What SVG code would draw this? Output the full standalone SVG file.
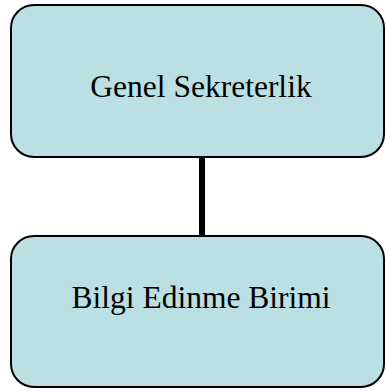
<svg xmlns="http://www.w3.org/2000/svg" width="386" height="391" viewBox="0 0 386 391">
<style>
.box{fill:#BBE0E3;stroke:#000;stroke-width:2}
.lbl{font-family:"Liberation Serif","Times New Roman",serif;font-size:31.5px;fill:#000;text-anchor:middle}
</style>
<rect width="386" height="391" fill="#fff"/>
<g id="connectors">
<line x1="202" y1="157" x2="202" y2="236" stroke="#000" stroke-width="6"/>
</g>
<g id="genel-sekreterlik">
<rect class="box" x="11" y="5" width="373" height="152" rx="23" ry="23"/>
<text class="lbl" x="201" y="97">Genel Sekreterlik</text>
</g>
<g id="bilgi-edinme-birimi">
<rect class="box" x="11" y="236" width="373" height="151" rx="23" ry="23"/>
<text class="lbl" x="201" y="308">Bilgi Edinme Birimi</text>
</g>
</svg>
